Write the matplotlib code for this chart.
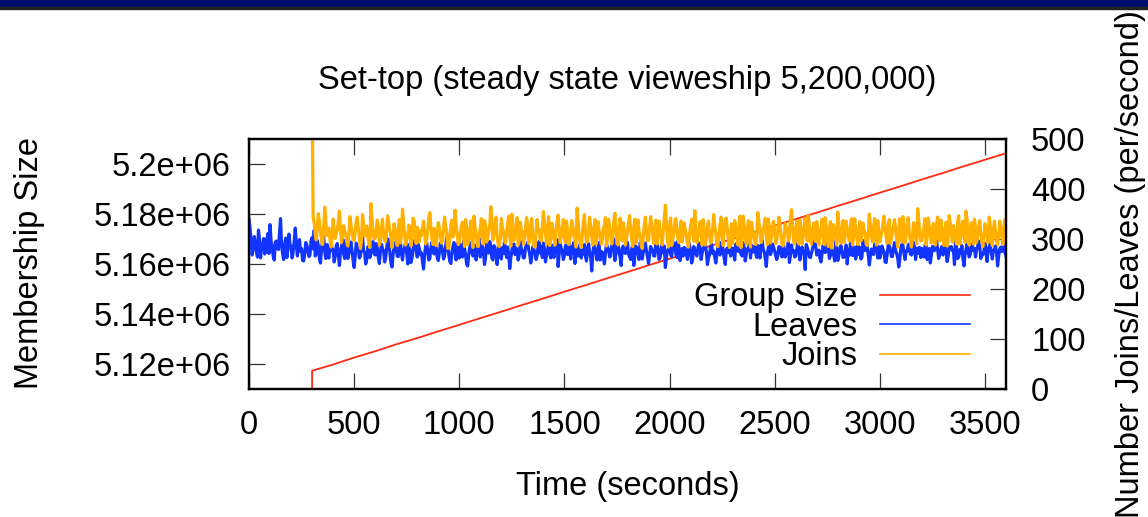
import numpy as np
import matplotlib
matplotlib.use('Agg')
import matplotlib.pyplot as plt
from matplotlib.patches import Rectangle

plt.rcParams['font.family'] = ['Liberation Sans', 'DejaVu Sans']

# leaves per second, one sample every 5 s starting at 0 s
leaves = [
    340, 322, 297, 268, 281, 305, 292, 276, 264, 318, 299, 262, 284, 288, 301, 270, 279, 300, 311, 271,
    329, 296, 284, 266, 258, 293, 296, 281, 279, 312, 341, 287, 270, 259, 290, 302, 263, 280, 310, 289,
    285, 262, 274, 296, 322, 291, 266, 284, 299, 276, 281, 257, 256, 270, 293, 288, 277, 265, 268, 296,
    303, 280, 318, 266, 272, 297, 286, 259, 252, 283, 296, 305, 275, 261, 289, 270, 262, 284, 301, 277,
    279, 254, 265, 287, 291, 268, 247, 275, 284, 299, 270, 261, 298, 282, 261, 271, 288, 294, 276, 258,
    243, 266, 292, 283, 280, 262, 266, 289, 305, 277, 272, 250, 259, 284, 286, 263, 274, 292, 295, 270,
    268, 291, 283, 262, 251, 274, 290, 280, 277, 254, 262, 283, 300, 289, 273, 252, 244, 268, 287, 293,
    279, 266, 265, 289, 296, 271, 258, 278, 282, 294, 271, 250, 289, 277, 253, 262, 276, 295, 298, 280,
    264, 289, 281, 269, 272, 256, 240, 267, 288, 293, 275, 258, 261, 283, 294, 279, 270, 288, 283, 263,
    257, 271, 292, 286, 278, 260, 266, 284, 302, 290, 269, 255, 251, 273, 285, 293, 274, 258, 290, 283,
    262, 289, 279, 264, 295, 281, 268, 250, 246, 270, 284, 293, 273, 266, 289, 280, 258, 275, 281, 301,
    264, 279, 287, 275, 249, 263, 291, 280, 272, 295, 283, 262, 258, 287, 276, 271, 249, 285, 283, 266,
    260, 283, 271, 294, 279, 263, 284, 270, 241, 262, 277, 289, 290, 269, 282, 275, 258, 267, 296, 281,
    274, 262, 263, 284, 287, 293, 279, 270, 252, 266, 285, 279, 273, 259, 266, 287, 295, 272, 285, 263,
    292, 281, 254, 268, 279, 290, 271, 262, 288, 275, 263, 281, 284, 299, 245, 270, 290, 281, 275, 259,
    267, 287, 284, 269, 298, 276, 260, 280, 287, 293, 251, 275, 282, 266, 271, 290, 262, 284, 270, 289,
    265, 256, 280, 291, 274, 263, 236, 271, 289, 280, 271, 258, 283, 293, 258, 275, 274, 262, 250, 271,
    291, 283, 279, 264, 266, 289, 284, 300, 257, 273, 282, 293, 273, 262, 247, 282, 286, 275, 271, 288,
    293, 270, 264, 259, 279, 290, 247, 268, 286, 281, 271, 259, 293, 288, 260, 274, 281, 292, 276, 265,
    251, 268, 285, 279, 278, 266, 266, 297, 292, 281, 259, 263, 280, 290, 272, 286, 243, 262, 277, 281,
    290, 269, 265, 284, 283, 292, 270, 263, 296, 284, 257, 270, 281, 266, 283, 276, 270, 259, 296, 288,
    274, 252, 260, 285, 278, 271, 266, 282, 292, 282, 259, 272, 280, 290, 288, 275, 249, 262, 268, 285,
    289, 271, 276, 264, 252, 270, 284, 293, 268, 287, 295, 277, 261, 249, 279, 282, 273, 291, 266, 273,
    282, 270, 258, 290, 288, 276, 275, 281, 269, 266, 293, 283, 256, 271, 280, 283, 291, 262, 288, 274,
    280, 286, 271, 263, 287, 279, 262, 285, 298, 281, 274, 261, 245, 271, 283, 296, 269, 276, 290, 283,
    276, 266, 259, 268, 285, 283, 272, 264, 294, 279, 264, 273, 281, 295, 253, 267, 288, 275, 277, 264,
    266, 280, 292, 278, 258, 271, 284, 276, 271, 239, 289, 283, 275, 264, 263, 272, 281, 290, 296, 285,
    268, 271, 278, 262, 254, 270, 287, 281, 273, 276, 290, 285, 261, 267, 282, 270, 270, 256, 295, 275,
    257, 266, 283, 287, 276, 263, 264, 273, 288, 250, 279, 268, 292, 279, 267, 271, 284, 260, 272, 288,
    269, 283, 260, 264, 297, 281, 277, 288, 285, 268, 248, 266, 280, 275, 269, 289, 291, 280, 262, 285,
    262, 271, 286, 279, 274, 254, 253, 270, 289, 287, 278, 265, 265, 281, 293, 276, 271, 262, 244, 260,
    282, 290, 287, 270, 259, 276, 276, 288, 290, 270, 268, 274, 294, 285, 259, 281, 271, 283, 283, 263,
    281, 273, 264, 288, 288, 259, 270, 281, 252, 269, 285, 277, 277, 292, 296, 279, 261, 270, 279, 285,
    268, 293, 291, 274, 255, 266, 284, 281, 285, 277, 277, 249, 296, 283, 261, 264, 279, 272, 287, 262,
    246, 268, 280, 290, 275, 264, 269, 289, 289, 277, 281, 264, 279, 285, 296, 286, 261, 271, 268, 276,
    291, 275, 255, 282, 284, 290, 272, 260, 277, 279, 286, 273, 246, 266, 280, 284, 275, 282, 289, 273,
    266,
]

# joins per second, one sample every 5 s from 300 s (burst of joins at the start)
joins = [
    600, 345, 332, 310, 298, 327, 351, 334, 315, 296, 289, 320, 364, 341, 307, 318, 322, 299, 284, 303,
    340, 322, 301, 311, 318, 337, 356, 320, 293, 307, 327, 316, 309, 294, 286, 312, 345, 328, 312, 300,
    297, 316, 335, 344, 320, 302, 281, 296, 349, 330, 306, 315, 326, 305, 291, 283, 371, 338, 314, 300,
    302, 319, 338, 325, 288, 296, 323, 340, 310, 297, 295, 322, 347, 331, 316, 303, 283, 299, 331, 318,
    305, 287, 319, 339, 292, 310, 360, 334, 311, 288, 299, 306, 328, 319, 286, 301, 342, 337, 313, 291,
    324, 305, 294, 317, 307, 322, 336, 313, 290, 297, 318, 344, 353, 325, 301, 289, 321, 312, 287, 308,
    333, 324, 309, 292, 296, 318, 344, 326, 315, 281, 282, 300, 329, 338, 304, 313, 358, 327, 312, 289,
    293, 311, 325, 334, 308, 285, 339, 322, 289, 301, 317, 336, 300, 283, 346, 325, 311, 294, 285, 308,
    322, 341, 306, 290, 337, 328, 294, 303, 314, 330, 365, 338, 298, 310, 327, 344, 303, 289, 285, 300,
    341, 322, 316, 297, 292, 311, 330, 346, 309, 286, 350, 329, 297, 311, 320, 343, 288, 296, 334, 319,
    313, 290, 300, 321, 343, 330, 291, 299, 326, 341, 307, 285, 284, 310, 339, 317, 318, 299, 296, 324,
    355, 331, 310, 290, 323, 345, 287, 301, 332, 319, 305, 288, 316, 335, 348, 322, 293, 306, 319, 339,
    302, 293, 336, 317, 289, 298, 314, 337, 325, 306, 299, 284, 362, 337, 308, 291, 283, 306, 331, 349,
    317, 294, 295, 315, 344, 323, 306, 288, 321, 339, 290, 303, 335, 316, 312, 290, 298, 320, 327, 343,
    286, 301, 340, 322, 311, 290, 303, 336, 352, 325, 294, 288, 320, 342, 309, 296, 333, 317, 288, 302,
    315, 333, 347, 321, 300, 285, 324, 340, 292, 302, 338, 315, 307, 288, 281, 306, 329, 344, 318, 297,
    297, 322, 345, 326, 310, 291, 322, 338, 290, 305, 336, 317, 304, 288, 316, 341, 368, 332, 299, 284,
    328, 342, 287, 298, 313, 335, 341, 317, 301, 293, 319, 336, 294, 311, 332, 318, 308, 290, 284, 310,
    326, 340, 314, 296, 357, 322, 293, 311, 317, 335, 305, 288, 339, 318, 288, 302, 323, 336, 310, 292,
    296, 320, 349, 326, 312, 289, 285, 307, 330, 344, 306, 287, 321, 339, 342, 317, 299, 283, 315, 331,
    291, 309, 337, 323, 308, 288, 324, 346, 283, 300, 346, 327, 303, 290, 318, 337, 296, 284, 334, 318,
    311, 297, 289, 313, 353, 334, 316, 293, 300, 320, 327, 342, 307, 289, 340, 324, 292, 308, 320, 336,
    313, 291, 298, 322, 344, 328, 309, 288, 286, 304, 331, 317, 322, 296, 305, 343, 359, 327, 295, 290,
    317, 335, 302, 290, 338, 316, 290, 303, 325, 342, 312, 296, 348, 326, 297, 290, 314, 332, 306, 295,
    335, 314, 288, 301, 321, 340, 310, 289, 343, 327, 299, 285, 316, 335, 282, 298, 329, 318, 307, 288,
    354, 331, 301, 292, 318, 337, 293, 305, 336, 314, 311, 296, 325, 341, 289, 302, 341, 322, 304, 289,
    319, 335, 296, 310, 332, 318, 313, 290, 287, 306, 350, 329, 308, 294, 323, 341, 300, 288, 337, 315,
    294, 304, 315, 333, 346, 321, 305, 292, 328, 339, 291, 303, 312, 327, 339, 318, 298, 284, 320, 341,
    309, 294, 345, 327, 292, 307, 326, 343, 314, 297, 284, 301, 333, 317, 303, 290, 361, 339, 311, 296,
    297, 312, 324, 341, 288, 304, 342, 325, 306, 292, 317, 331, 295, 288, 330, 344, 310, 296, 338, 322,
    301, 287, 318, 334, 286, 299, 347, 331, 313, 294, 327, 316, 299, 290, 334, 347, 290, 306, 322, 336,
    308, 293, 356, 338, 296, 288, 315, 333, 304, 290, 340, 324, 293, 306, 321, 337, 311, 295, 285, 304,
    331, 317, 307, 293, 344, 329, 298, 287, 319, 336, 312, 296, 289, 307, 336, 322, 305, 289, 325, 339,
    294,
]
leaves_t = np.arange(len(leaves)) * 5
joins_t = 300 + np.arange(len(joins)) * 5

# group size (members), starts empty and is counted from 300 s
group_t = [300, 300] + list(range(400, 3601, 100))
group = [
    0, 5117200, 5119700, 5122500, 5125000, 5127800, 5130300, 5133000, 5135600,
    5138300, 5140900, 5143600, 5146200, 5148900, 5151500, 5154200, 5156800,
    5159500, 5162100, 5164800, 5167400, 5170100, 5172700, 5175400, 5178000,
    5180600, 5183300, 5185900, 5188600, 5191200, 5193900, 5196500, 5199200,
    5201800, 5204400,
]

x_ticks = [0, 500, 1000, 1500, 2000, 2500, 3000, 3500]
y_ticks = [5.12e6, 5.14e6, 5.16e6, 5.18e6, 5.2e6]
y_labels = ['5.12e+06', '5.14e+06', '5.16e+06', '5.18e+06', '5.2e+06']
y2_ticks = [0, 100, 200, 300, 400, 500]

fs = 23.5

fig = plt.figure(figsize=(11.48, 5.17), dpi=100)
ax = fig.add_axes([249 / 1148, 1 - 388.7 / 517, 757 / 1148, 249.4 / 517])
ax2 = ax.twinx()

# slide header strip
fig.patches.append(Rectangle((0, 1 - 7 / 517), 1, 7 / 517, transform=fig.transFigure,
                             color='#000f6e', zorder=0))
fig.patches.append(Rectangle((0, 1 - 8.5 / 517), 1, 1.5 / 517, transform=fig.transFigure,
                             color='#222222', zorder=0))

l_group, = ax.plot(group_t, group, color='#ff2a10', lw=1.3, label='Group Size')
l_leave, = ax2.plot(leaves_t, leaves, color='#1234ff', lw=2.3, label='Leaves')
l_join, = ax2.plot(joins_t, joins, color='#ffb000', lw=2.3, label='Joins')

ax.set_xlim(0, 3600)
ax.set_ylim(5.11e6, 5.21e6)
ax2.set_ylim(0, 500)

ax.set_xticks(x_ticks)
ax.set_xticklabels([str(v) for v in x_ticks])
ax.set_yticks(y_ticks)
ax.set_yticklabels(y_labels)
ax2.set_yticks(y2_ticks)

ax.tick_params(axis='x', direction='in', length=11.5, width=0.9, top=True, labelsize=fs,
               pad=15, color='#333333')
ax.tick_params(axis='y', direction='in', length=11.5, width=0.9, labelsize=fs, pad=13,
               color='#333333')
ax2.tick_params(axis='y', direction='in', length=11.5, width=0.9, labelsize=fs, pad=18,
                color='#333333')

for a in (ax, ax2):
    for s in a.spines.values():
        s.set_linewidth(1.6)
        s.set_color('black')

ax.set_xlabel('Time (seconds)', fontsize=fs, labelpad=22)
fig.text(30 / 1148, 1 - 263 / 517, 'Membership Size', rotation=90, fontsize=fs,
         ha='center', va='center')
fig.text(1130 / 1148, 1 - 264 / 517, 'Number Joins/Leaves (per/second)', rotation=90,
         fontsize=fs, ha='center', va='center')
fig.text(627 / 1148, 1 - 81 / 517, 'Set-top (steady state vieweship 5,200,000)',
         fontsize=fs, ha='center', va='center')

ax2.legend(handles=[l_group, l_leave, l_join], loc='upper right',
           bbox_to_anchor=(0.952, 0.427), frameon=False, markerfirst=False,
           fontsize=fs, handlelength=2.75, handletextpad=0.7, labelspacing=-0.05,
           borderpad=0, borderaxespad=0)
for h in ax2.get_legend().get_lines():
    h.set_linewidth(1.2)

plt.savefig('out.png', dpi=100)
